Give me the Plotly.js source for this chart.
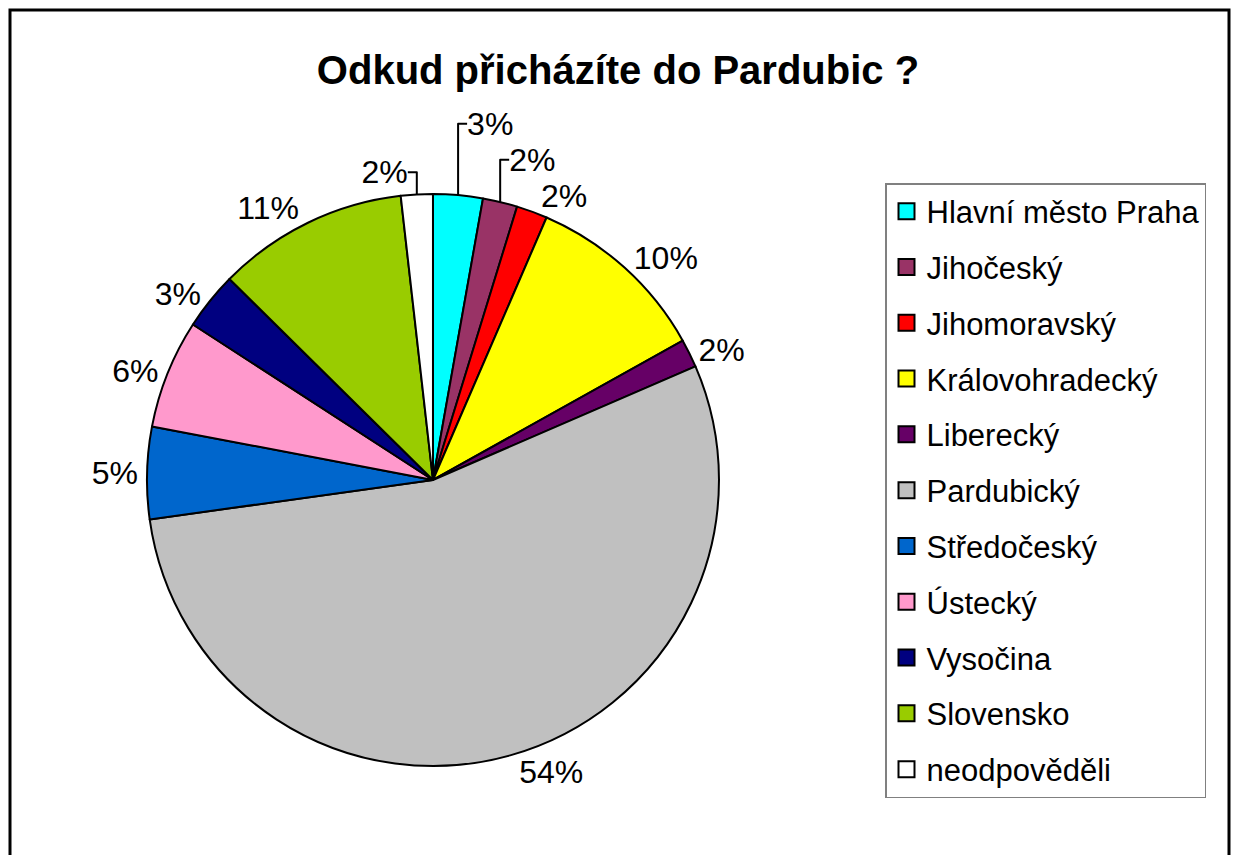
<!DOCTYPE html>
<html>
<head>
<meta charset="utf-8">
<script src="https://cdn.plot.ly/plotly-3.0.1.min.js"></script>
<style>
  html, body { margin: 0; padding: 0; background: #fff; }
  #chart { width: 1236px; height: 855px; }
</style>
</head>
<body>
<div id="chart"></div>
<script>
const categories = ["Hlavní město Praha", "Jihočeský", "Jihomoravský", "Královohradecký", "Liberecký", "Pardubický", "Středočeský", "Ústecký", "Vysočina", "Slovensko", "neodpověděli"];
const values = [2.8, 1.95, 1.75, 10.4, 1.6, 54.3, 5.2, 6.15, 3.25, 10.8, 1.8];
const colors = ["#00FFFF", "#993366", "#FF0000", "#FFFF00", "#660066", "#C0C0C0", "#0066CC", "#FF99CC", "#000080", "#99CC00", "#FFFFFF"];
const titleText = "Odkud přicházíte do Pardubic ?";

const FONT = "Liberation Sans, Arial, sans-serif";

const pie = {
  type: "pie",
  labels: categories,
  values: values,
  sort: false,
  direction: "clockwise",
  rotation: 0,
  marker: { colors: colors, line: { color: "#000000", width: 2 } },
  texttemplate: "%{percent:.0%}",
  textposition: "outside",
  outsidetextfont: { family: FONT, size: 32, color: "#000000" },
  domain: { x: [0.1189, 0.5817], y: [0.1006, 0.7766] },
  showlegend: false,
  hoverinfo: "label+percent"
};

// legend entries (one per category) with square swatches
const legendTraces = categories.map((c, i) => ({
  type: "scatter",
  mode: "markers",
  x: [null], y: [null],
  name: c,
  legendgroup: "g" + i,
  marker: { symbol: "square", size: 16, color: colors[i], line: { color: "#000000", width: 2 } },
  hoverinfo: "skip"
}));

const layout = {
  width: 1236,
  height: 855,
  margin: { l: 0, r: 0, t: 0, b: 0 },
  paper_bgcolor: "#ffffff",
  plot_bgcolor: "#ffffff",
  title: {
    text: "<b>" + titleText + "</b>",
    font: { family: FONT, size: 40, color: "#000000" },
    x: 0.5, xref: "paper", xanchor: "center",
    y: 0.918, yref: "container", yanchor: "middle"
  },
  xaxis: { visible: false, domain: [0.8, 0.81] },
  yaxis: { visible: false, domain: [0.8, 0.81] },
  showlegend: true,
  legend: {
    x: 885 / 1236, y: 1 - 183 / 855, xanchor: "left", yanchor: "top",
    xref: "paper", yref: "paper",
    bordercolor: "#808080", borderwidth: 1.5, bgcolor: "#ffffff",
    font: { family: FONT, size: 31, color: "#000000" },
    tracegroupgap: 12.5,
    traceorder: "grouped"
  },
  shapes: [{
    type: "rect", xref: "paper", yref: "paper",
    x0: 10 / 1236, x1: 1229 / 1236, y0: -0.1, y1: 1 - 10 / 855,
    line: { color: "#000000", width: 3 }, fillcolor: "rgba(0,0,0,0)"
  }]
};

Plotly.newPlot("chart", [pie].concat(legendTraces), layout, { displayModeBar: false, staticPlot: true });
</script>
</body>
</html>
